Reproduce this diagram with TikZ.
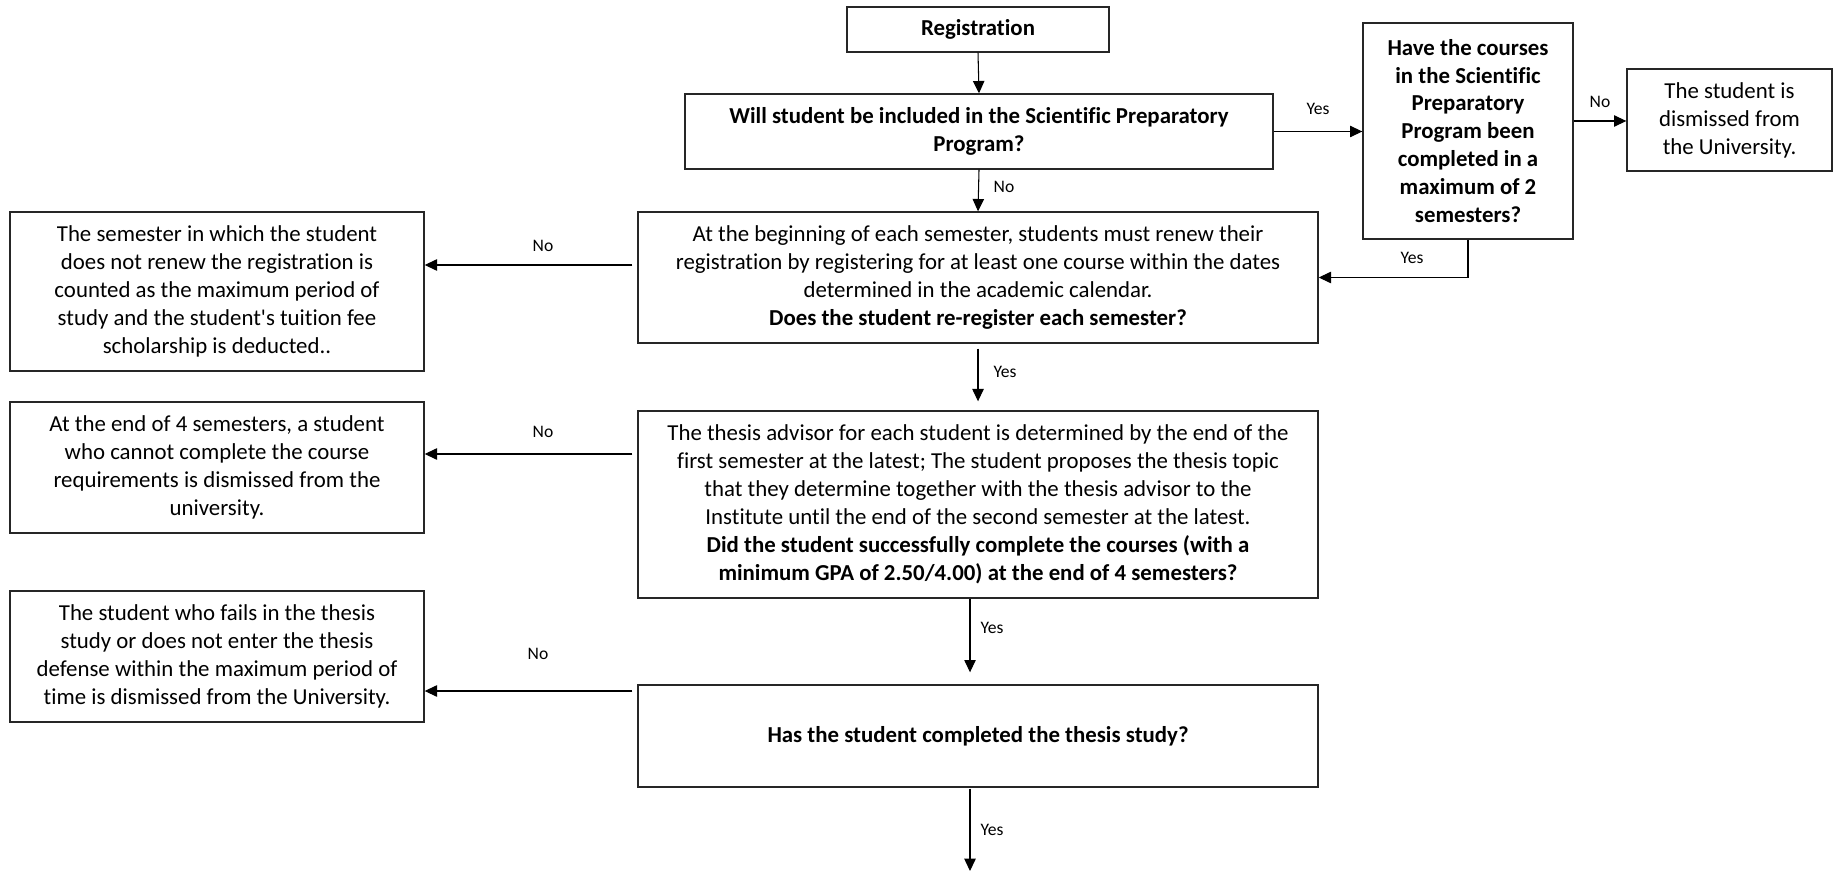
\documentclass[tikz,border=0pt]{standalone}
\usepackage{fontspec}
\setmainfont{Carlito}[Ligatures={TeXOff,CommonOff}]
\usetikzlibrary{arrows.meta,calc}
\tikzset{
 box/.style 2 args={draw=black!85, line width=0.8pt, align=center, inner sep=0pt,
   minimum width=#1*0.02cm, minimum height=#2*0.02cm, font=\fontsize{13}{15.9}\selectfont},
 arr/.style={line width=0.6pt, -{Triangle[length=7pt,width=6.5pt]}},
 lbl/.style={font=\fontsize{10}{12}\selectfont, inner sep=0pt},
}
\begin{document}
\begin{tikzpicture}[x=0.02cm,y=-0.02cm]
\useasboundingbox (0,0) rectangle (1834,871);
% boxes
\node[box={262}{45}] (reg) at (978,29.5) {\textbf{Registration}};
\node[box={588}{75}] (q1) at (979,131.5) {\textbf{Will student be included in the Scientific Preparatory}\\\textbf{Program?}};
\node[box={210}{216}] (q2) at (1468,131) {\textbf{Have the courses}\\\textbf{in the Scientific}\\\textbf{Preparatory}\\\textbf{Program been}\\\textbf{completed in a}\\\textbf{maximum of 2}\\\textbf{semesters?}};
\node[box={205}{102}] (dis) at (1729.5,120) {The student is\\dismissed from\\the University.};
\node[box={680}{131}] (q3) at (978,277.5) {At the beginning of each semester, students must renew their\\registration by registering for at least one course within the dates\\determined in the academic calendar.\\\textbf{Does the student re-register each semester?}};
\node[box={414}{159}] (l1) at (217,291.5) {The semester in which the student\\does not renew the registration is\\counted as the maximum period of\\study and the student's tuition fee\\scholarship is deducted..};
\node[box={414}{131}] (l2) at (217,467.5) {At the end of 4 semesters, a student\\who cannot complete the course\\requirements is dismissed from the\\university.};
\node[box={680}{187}] (q4) at (978,504.5) {The thesis advisor for each student is determined by the end of the\\first semester at the latest; The student proposes the thesis topic\\that they determine together with the thesis advisor to the\\Institute until the end of the second semester at the latest.\\\textbf{Did the student successfully complete the courses (with a}\\\textbf{minimum GPA of 2.50/4.00) at the end of 4 semesters?}};
\node[box={414}{131}] (l3) at (217,656.5) {The student who fails in the thesis\\study or does not enter the thesis\\defense within the maximum period of\\time is dismissed from the University.};
\node[box={680}{102}] (q5) at (978,736) {\textbf{Has the student completed the thesis study?}};
\coordinate (end) at (970,871);
% connectors
\draw[arr] (reg.south) -- (q1.north);
\draw[arr] (q1.east) -- (q1.east -| q2.west);
\draw[arr] ($(q2.east)+(0,-10)$) coordinate (b) -- (b -| dis.west);
\draw[arr] (q1.south) -- (q3.north);
\draw[arr] (q2.south) |- (q3.east);
\draw[arr] ($(q3.west)+(-5,-12.5)$) coordinate (c1) -- (c1 -| l1.east);
\draw[arr] ($(q3.south)+(0,5)$) -- ($(q4.north)+(0,-9)$);
\draw[arr] ($(q4.west)+(-5,-50.5)$) coordinate (c2) -- (c2 -| l2.east);
\draw[arr] ($(q4.south)+(-8,0)$) -- ($(q5.north)+(-8,-12)$);
\draw[arr] ($(q5.west)+(-5,-45)$) coordinate (c3) -- (c3 -| l3.east);
\draw[arr] ($(q5.south)+(-8,1)$) -- (end);
% labels
\node[lbl] (y1) at (1318,109) {Yes};
\node[lbl] (n1) at (1600,102) {No};
\node[lbl] (n2) at (1004,187) {No};
\node[lbl] (y2) at (1412,258) {Yes};
\node[lbl] (n3) at (543,246) {No};
\node[lbl] (y3) at (1005,372) {Yes};
\node[lbl] (n4) at (543,432) {No};
\node[lbl] (y4) at (992,628) {Yes};
\node[lbl] (n5) at (538,654) {No};
\node[lbl] (y5) at (992,830) {Yes};
\end{tikzpicture}
\end{document}
